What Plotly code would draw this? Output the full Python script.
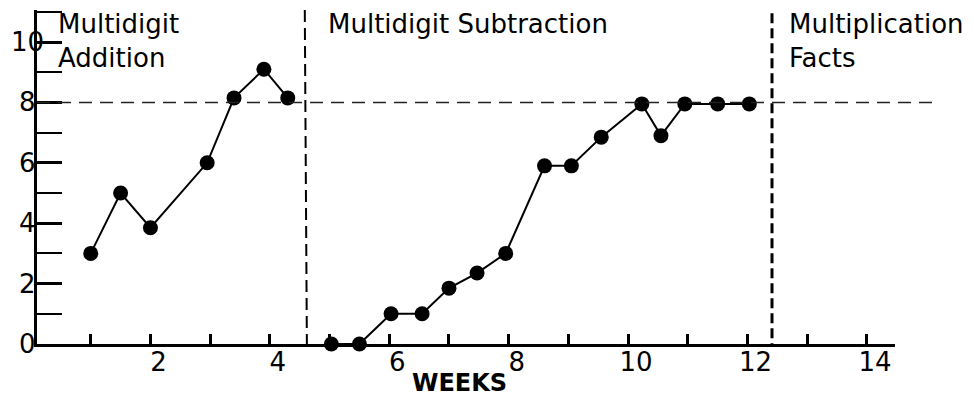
import plotly.graph_objects as go

# Phase 1: Multidigit Addition
weeks_add = [1.0, 1.5, 2.0, 2.95, 3.4, 3.9, 4.3]
score_add = [3.0, 5.0, 3.85, 6.0, 8.15, 9.1, 8.15]

# Phase 2: Multidigit Subtraction
weeks_sub = [5.03, 5.5, 6.03, 6.55, 7.0, 7.47, 7.95, 8.6, 9.05, 9.55, 10.23, 10.55, 10.95, 11.5, 12.03]
score_sub = [0, 0, 1, 1, 1.85, 2.35, 3, 5.9, 5.9, 6.85, 7.95, 6.9, 7.95, 7.95, 7.95]

# Phase change lines and criterion
phase_change_1 = 4.6
phase_change_2 = 12.41
criterion = 8

phase_labels = ["Multidigit<br>Addition", "Multidigit Subtraction", "Multiplication<br>Facts"]
phase_label_x = [0.43, 4.96, 12.68]

y_tick_vals = [0, 2, 4, 6, 8, 10]
y_tick_text = ["0", "2", "4", "6", "8", "10"]

FONT = "DejaVu Sans"

# The page body has an 8px margin; size the figure so the plot area sits where the reference's does.
W, H = 966, 392
ML, MR, MT, MB = 29, 79, 2, 56
plot_w = W - ML - MR

fig = go.Figure()
for xs, ys in [(weeks_add, score_add), (weeks_sub, score_sub)]:
    fig.add_trace(go.Scatter(
        x=xs, y=ys, mode="lines+markers",
        line=dict(color="black", width=2),
        marker=dict(color="black", size=15, symbol="circle"),
        cliponaxis=False, showlegend=False,
    ))

# criterion dashed line (extends past the x-axis end)
fig.add_shape(type="line", xref="paper", yref="y", x0=0, x1=1.0443, y0=criterion, y1=criterion,
              line=dict(color="#222", width=1.5, dash="13px,8px"))
# phase change lines
fig.add_shape(type="line", xref="x", yref="y", x0=phase_change_1 - 0.015, x1=phase_change_1 + 0.02,
              y0=11.06, y1=0, line=dict(color="black", width=2, dash="12px,6px"))
fig.add_shape(type="line", xref="x", yref="y", x0=phase_change_2, x1=phase_change_2,
              y0=10.95, y1=0, line=dict(color="black", width=3, dash="10px,5px"))

for txt, xv in zip(phase_labels, phase_label_x):
    fig.add_annotation(text=txt, x=xv, xref="x", y=1, yref="paper", xanchor="left", yanchor="top",
                       align="left", showarrow=False, yshift=2, borderpad=0,
                       font=dict(family=FONT, size=26, color="black"))

# y tick labels, centred left of the axis as in the reference
for v, t in zip(y_tick_vals, y_tick_text):
    fig.add_annotation(text=t, x=-10 / plot_w, xref="paper", y=v, yref="y", xanchor="center",
                       yanchor="middle", showarrow=False,
                       font=dict(family=FONT, size=26, color="black"))

fig.add_annotation(text="<b>WEEKS</b>", x=0.493, xref="paper", y=-0.1168, yref="paper",
                   xanchor="center", yanchor="middle", showarrow=False,
                   font=dict(family=FONT, size=24, color="black"))

fig.update_xaxes(range=[0.1, 14.47], tick0=0, dtick=2, ticks="inside", ticklen=10, tickwidth=2.5,
                 tickcolor="black", showline=True, linewidth=3, linecolor="black",
                 showgrid=False, zeroline=False, ticklabelshift=8, ticklabelstandoff=-7,
                 automargin=False,
                 minor=dict(dtick=1, tick0=0, ticks="inside", ticklen=10, tickwidth=2.5, tickcolor="black"),
                 tickfont=dict(family=FONT, size=26, color="black"))
fig.update_yaxes(range=[0, 11.06], tick0=0, dtick=2, ticks="inside", ticklen=25, tickwidth=2.5,
                 tickcolor="black", showline=True, linewidth=3, linecolor="black",
                 showgrid=False, zeroline=False, automargin=False, showticklabels=False,
                 minor=dict(dtick=1, tick0=0, ticks="inside", ticklen=25, tickwidth=1.5, tickcolor="black"))

fig.update_layout(width=W, height=H, margin=dict(l=ML, r=MR, t=MT, b=MB),
                  plot_bgcolor="white", paper_bgcolor="white")

fig.write_html("out.html")
